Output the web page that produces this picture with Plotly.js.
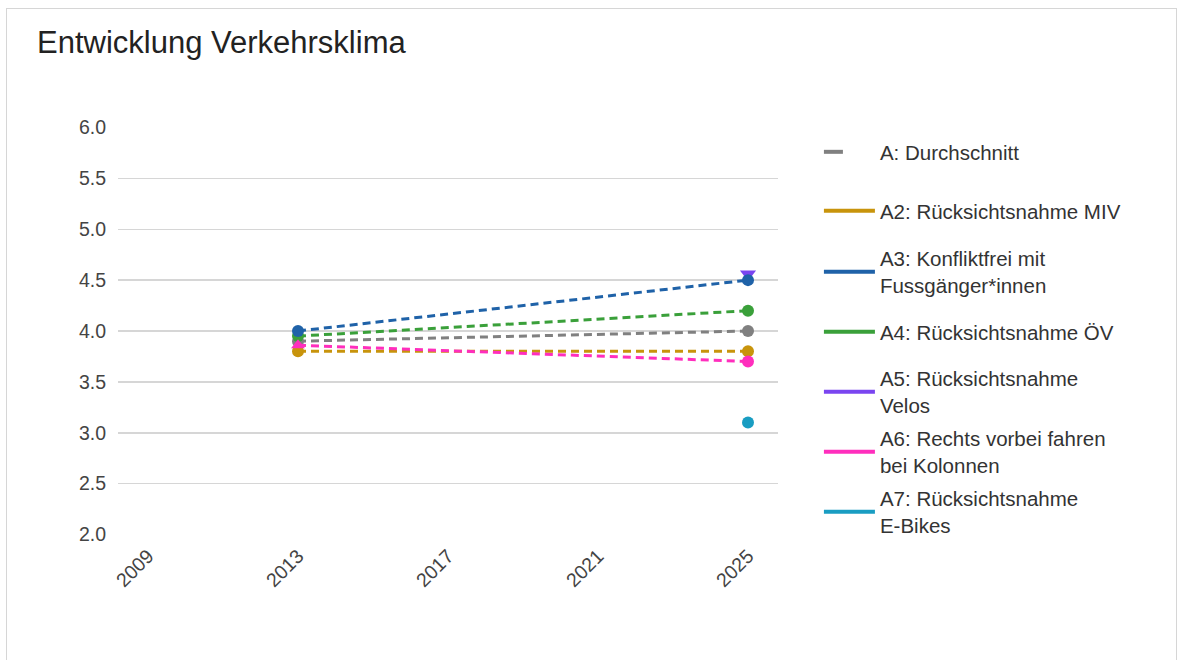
<!DOCTYPE html>
<html>
<head>
<meta charset="utf-8">
<script src="https://cdn.plot.ly/plotly-3.0.1.min.js"></script>
<style>
html,body{margin:0;padding:0;background:#fff;}
#frame{position:absolute;left:6px;top:8px;width:1171px;height:660px;border:1px solid #d6d6d6;box-sizing:border-box;}
#chart{position:absolute;left:0;top:0;width:1178px;height:660px;}
</style>
</head>
<body>
<div id="frame"></div>
<div id="chart"></div>
<script>
// Data
const years = [2013, 2025];
const seriesNames = [
  "A: Durchschnitt",
  "A2: Rücksichtsnahme MIV",
  "A3: Konfliktfrei mit<br>Fussgänger*innen",
  "A4: Rücksichtsnahme ÖV",
  "A5: Rücksichtsnahme<br>Velos",
  "A6: Rechts vorbei fahren<br>bei Kolonnen",
  "A7: Rücksichtsnahme<br>E-Bikes"
];
const valA  = [3.90, 4.00];
const valA2 = [3.80, 3.80];
const valA3 = [4.00, 4.50];
const valA4 = [3.95, 4.20];
const valA5 = [null, 4.56];
const valA6 = [3.86, 3.70];
const valA7 = [null, 3.10];
const seriesValues = [valA, valA2, valA3, valA4, valA5, valA6, valA7];
const seriesColors = ["#808080", "#c8940c", "#1f62a8", "#3aa03a", "#7a45f0", "#ff2ebd", "#199dc2"];
const seriesSymbols = [
  ["circle","circle"],
  ["circle","circle"],
  ["circle","circle"],
  ["circle","circle"],
  ["triangle-down","triangle-down"],
  ["triangle-up","circle"],
  ["circle","circle"]
];
const xTicks = [2009, 2013, 2017, 2021, 2025];
const yTicks = [2.0, 2.5, 3.0, 3.5, 4.0, 4.5, 5.0, 5.5, 6.0];
const titleText = "Entwicklung Verkehrsklima";

const FONT = "Liberation Sans, Arial, sans-serif";
const traces = [];
// plotting order: purple first so others sit on top
const drawOrder = [4, 0, 1, 3, 2, 5, 6];
drawOrder.forEach(i => {
  traces.push({
    type: "scatter", mode: "lines+markers",
    x: years, y: seriesValues[i],
    line: {color: seriesColors[i], width: 3, dash: "8px,5px"},
    marker: {color: seriesColors[i], size: i === 4 ? 14 : 12, symbol: seriesSymbols[i]},
    connectgaps: false,
    showlegend: false, hoverinfo: "x+y", name: seriesNames[i]
  });
});
// legend entries (one legend each, positioned individually)
const legendCenters = [152, 211, 272, 332, 392, 452, 512];
const plotTop = 127, plotBottom = 535;
const layoutLegends = {};
seriesNames.forEach((nm, i) => {
  const key = i === 0 ? "legend" : "legend" + (i + 1);
  traces.push({
    type: "scatter", mode: "lines",
    x: [null], y: [null],
    name: nm,
    line: {color: seriesColors[i], width: 4, dash: i === 0 ? "19px,40px" : "solid"},
    legend: key, showlegend: true, hoverinfo: "skip"
  });
  layoutLegends[key] = {
    x: 1.062, xanchor: "left",
    y: (plotBottom - legendCenters[i]) / (plotBottom - plotTop), yanchor: "middle",
    font: {family: FONT, size: 20.5, color: "#333"},
    bgcolor: "rgba(0,0,0,0)", itemwidth: 51, tracegroupgap: 0,
    itemclick: false, itemdoubleclick: false
  };
});

const layout = Object.assign({
  width: 1178, height: 660,
  paper_bgcolor: "rgba(0,0,0,0)", plot_bgcolor: "rgba(0,0,0,0)",
  margin: {l: 118, r: 400, t: plotTop, b: 660 - plotBottom, pad: 0},
  font: {family: FONT, size: 19, color: "#444"},
  title: {text: titleText, x: 37 / 1178, xanchor: "left", xref: "container",
          y: 1 - 42 / 660, yanchor: "middle", yref: "container",
          font: {family: FONT, size: 31, color: "#222"}},
  xaxis: {range: [2008.2, 2025.8], tickvals: xTicks, ticktext: xTicks.map(String),
          tickangle: -45, showgrid: false, zeroline: false, showline: false,
          tickfont: {family: FONT, size: 19.5, color: "#444"}, ticks: "", ticklabelstandoff: 5},
  yaxis: {range: [1.995, 6.005], tickvals: yTicks, ticktext: yTicks.map(v => v.toFixed(1)),
          showgrid: true, gridcolor: "#d6d6d6", gridwidth: 1.5, zeroline: false, showline: false,
          tickfont: {family: FONT, size: 19.5, color: "#444"}, ticks: "", ticklabelstandoff: 11},
  showlegend: true
}, layoutLegends);

Plotly.newPlot("chart", traces, layout, {displayModeBar: false, staticPlot: true});
</script>
</body>
</html>
